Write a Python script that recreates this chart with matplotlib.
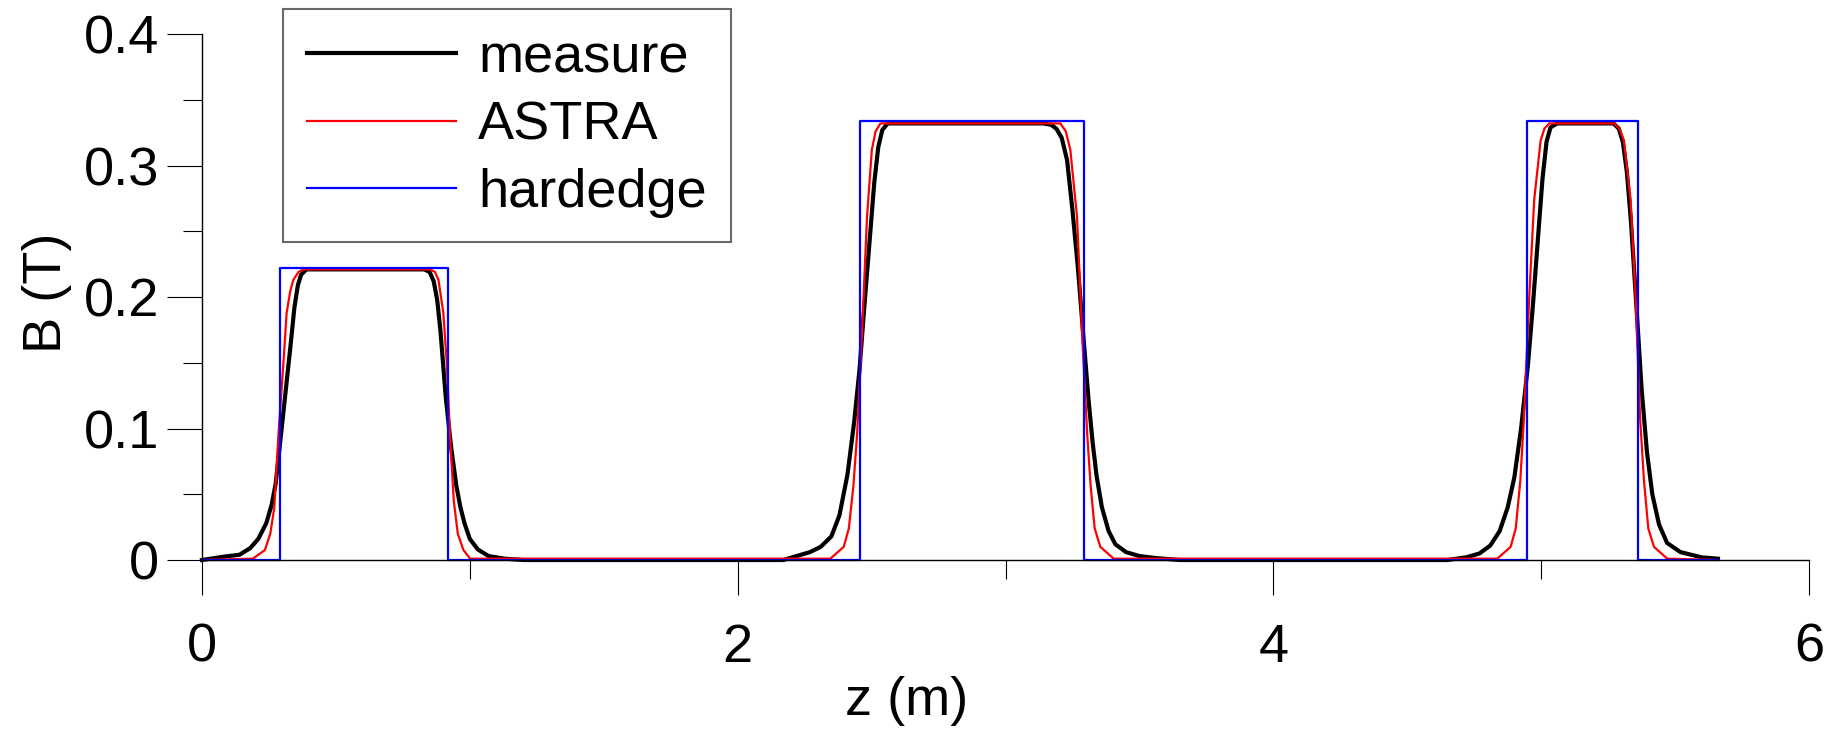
import numpy as np
import matplotlib
matplotlib.use("Agg")
import matplotlib.pyplot as plt
from matplotlib.ticker import MultipleLocator

plt.rcParams['font.family'] = ['Liberation Sans', 'DejaVu Sans']

measure_z = [0.00, 0.08, 0.14, 0.18, 0.21, 0.24, 0.26, 0.275, 0.29, 0.31, 0.33, 0.345, 0.358, 0.37, 0.39,
             0.83, 0.85, 0.865, 0.878, 0.89, 0.91, 0.93, 0.95, 0.965, 0.98, 1.00, 1.03, 1.07, 1.13, 1.20,
             2.17, 2.27, 2.31, 2.35, 2.38, 2.41, 2.435, 2.455, 2.47, 2.49, 2.51, 2.525, 2.54, 2.56,
             3.14, 3.17, 3.19, 3.21, 3.23, 3.25, 3.27, 3.29, 3.31, 3.325, 3.34, 3.36, 3.385, 3.41, 3.45, 3.50, 3.56, 3.65,
             4.65, 4.72, 4.77, 4.81, 4.845, 4.875, 4.90, 4.925, 4.95, 4.97, 4.99, 5.005, 5.02, 5.035, 5.06,
             5.27, 5.29, 5.305, 5.32, 5.335, 5.355, 5.375, 5.395, 5.415, 5.44, 5.47, 5.52, 5.60, 5.66]
measure_B = [0.000, 0.0025, 0.004, 0.009, 0.016, 0.028, 0.042, 0.058, 0.086, 0.124, 0.162, 0.192, 0.209, 0.217, 0.221,
             0.221, 0.219, 0.212, 0.198, 0.175, 0.124, 0.086, 0.056, 0.040, 0.028, 0.016, 0.008, 0.003, 0.001, 0.000,
             0.000, 0.006, 0.010, 0.018, 0.034, 0.065, 0.105, 0.145, 0.185, 0.236, 0.287, 0.314, 0.327, 0.332,
             0.332, 0.331, 0.328, 0.321, 0.304, 0.266, 0.223, 0.172, 0.122, 0.090, 0.064, 0.040, 0.022, 0.012, 0.006, 0.003, 0.0015, 0.000,
             0.000, 0.002, 0.005, 0.011, 0.022, 0.040, 0.063, 0.100, 0.147, 0.196, 0.250, 0.290, 0.318, 0.329, 0.332,
             0.332, 0.328, 0.318, 0.295, 0.258, 0.195, 0.130, 0.082, 0.050, 0.027, 0.013, 0.006, 0.002, 0.001]

# ASTRA field model
astra_z = [0.00, 0.19, 0.235, 0.255, 0.27, 0.285, 0.304, 0.316, 0.33, 0.341, 0.36, 0.378,
           0.852, 0.87, 0.883, 0.901, 0.914, 0.926, 0.94, 0.955, 0.976, 1.001,
           2.346, 2.396, 2.415, 2.432, 2.446, 2.464, 2.483, 2.501, 2.515, 2.533,
           3.205, 3.225, 3.242, 3.267, 3.286, 3.305, 3.318, 3.333, 3.354, 3.404,
           4.836, 4.886, 4.905, 4.922, 4.936, 4.955, 4.974, 4.998, 5.012, 5.030,
           5.272, 5.292, 5.309, 5.334, 5.353, 5.369, 5.384, 5.40, 5.421, 5.471, 5.66]
astra_B = [0.000, 0.001, 0.0076, 0.020, 0.040, 0.094, 0.150, 0.188, 0.205, 0.213, 0.219, 0.221,
           0.221, 0.219, 0.213, 0.188, 0.150, 0.094, 0.045, 0.020, 0.0076, 0.001,
           0.001, 0.010, 0.024, 0.056, 0.096, 0.172, 0.261, 0.312, 0.326, 0.332,
           0.332, 0.326, 0.312, 0.261, 0.172, 0.096, 0.056, 0.024, 0.010, 0.001,
           0.001, 0.010, 0.024, 0.060, 0.109, 0.198, 0.274, 0.319, 0.328, 0.332,
           0.332, 0.328, 0.319, 0.274, 0.198, 0.109, 0.060, 0.024, 0.010, 0.001, 0.000]

# hard edge model (step edges)
hard_z = [0.0, 0.291, 0.919, 2.455, 3.292, 4.946, 5.362, 5.66]
hard_B = [0.0, 0.2223, 0.0, 0.3335, 0.0, 0.3335, 0.0, 0.0]

fs = 39

fig = plt.figure(figsize=(18.39, 7.40), dpi=100)
ax = fig.add_axes([202/1839, 1 - 560/740, (1809 - 202)/1839, (560 - 34)/740])

ax.plot(measure_z, measure_B, color='black', lw=3.0, label='measure', clip_on=False)
ax.plot(astra_z, astra_B, color='red', lw=1.6, label='ASTRA', clip_on=False)
ax.plot(hard_z, hard_B, color='blue', lw=1.6, drawstyle='steps-post', label='hardedge', clip_on=False)

ax.set_xlim(0, 6)
ax.set_ylim(0, 0.4)
ax.xaxis.set_major_locator(MultipleLocator(2))
ax.xaxis.set_minor_locator(MultipleLocator(1))
ax.yaxis.set_minor_locator(MultipleLocator(0.05))
ax.set_yticks([0, 0.1, 0.2, 0.3, 0.4])
ax.set_yticklabels(['0', '0.1', '0.2', '0.3', '0.4'])

for s in ['top', 'right']:
    ax.spines[s].set_visible(False)
for s in ['left', 'bottom']:
    ax.spines[s].set_linewidth(1.0)

ax.tick_params(axis='both', which='major', length=25, width=0.8, labelsize=fs)
ax.tick_params(axis='both', which='minor', length=13.5, width=0.8)
ax.tick_params(axis='x', which='major', pad=20)
ax.tick_params(axis='y', which='major', pad=6)

fig.text(47/1839, 1 - 293/740, 'B (T)', rotation=90, ha='center', va='center', fontsize=fs)
fig.text(907/1839, 1 - 701/740, 'z (m)', ha='center', va='center', fontsize=fs)

leg = ax.legend(loc='upper left', bbox_to_anchor=(283/1839, 1 - 9/740),
                bbox_transform=fig.transFigure, fontsize=fs, frameon=True,
                fancybox=False, handlelength=2.75, handletextpad=0.4,
                labelspacing=0.32, borderpad=0.45, borderaxespad=0)
leg.get_frame().set_edgecolor('#444444')
leg.get_frame().set_linewidth(1.5)

fig.savefig('out.png', dpi=100)
